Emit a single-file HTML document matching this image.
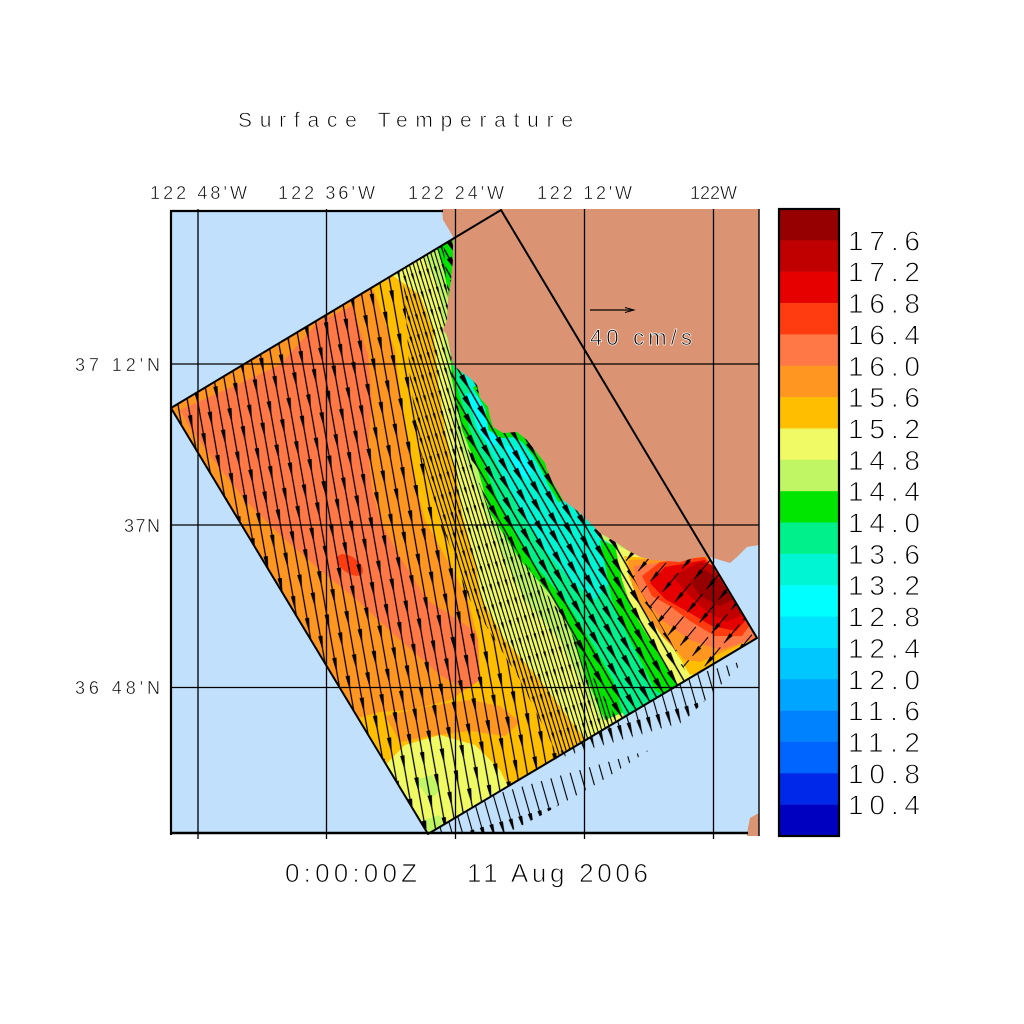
<!DOCTYPE html>
<html>
<head>
<meta charset="utf-8">
<style>
html,body{margin:0;padding:0;background:#fff;}
svg{display:block;}
text{font-family:"Liberation Sans",sans-serif;fill:#000;stroke:#fff;}
</style>
</head>
<body>
<svg width="1024" height="1024" viewBox="0 0 1024 1024" xmlns="http://www.w3.org/2000/svg">
<defs>
  <clipPath id="dom"><polygon points="171,408 501,210 757,638 428,834"/></clipPath>
  <clipPath id="frame"><rect x="171" y="211" width="588" height="623"/></clipPath>
  <pattern id="pA" width="20" height="44" patternUnits="userSpaceOnUse" patternTransform="rotate(-10)">
    <path d="M5 0V44M15 0V44" stroke="#000" stroke-width="1.25"/>
    <path d="M2.8 22H7.2L5 38ZM12.8 2H17.2L15 18Z" fill="#000"/>
  </pattern>
  <pattern id="pY" width="8" height="40" patternUnits="userSpaceOnUse" patternTransform="rotate(-17)">
    <path d="M2 0V40M6 0V40" stroke="#000" stroke-width="1.1"/>
    <path d="M0.8 22H3.2L2 34ZM4.8 2H7.2L6 14Z" fill="#000"/>
  </pattern>
  <pattern id="pB" width="16" height="36" patternUnits="userSpaceOnUse" patternTransform="rotate(-30)">
    <path d="M4 0V36M12 0V36" stroke="#000" stroke-width="1.4"/>
    <path d="M1.2 16H6.8L4 33ZM9.2 0H14.8L12 17Z" fill="#000"/>
  </pattern>
  <pattern id="pC" width="16" height="30" patternUnits="userSpaceOnUse" patternTransform="rotate(40)">
    <path d="M8 3V27" stroke="#000" stroke-width="1.1"/>
    <path d="M6 16H10L8 28Z" fill="#000"/>
  </pattern>
  <pattern id="pD" width="10" height="60" patternUnits="userSpaceOnUse" patternTransform="rotate(-16)">
    <path d="M5 0V42" stroke="#000" stroke-width="1.1"/>
    <path d="M3 28H7L5 44Z" fill="#000"/>
  </pattern>
</defs>

<!-- ocean -->
<rect x="171" y="211" width="588" height="623" fill="#c1e0fb"/>

<!-- domain colour field -->
<g clip-path="url(#dom)">
  <rect x="150" y="190" width="640" height="660" fill="#ff9622"/>
  <polygon fill="#ff7846" points="180,410 230,388 280,365 318,322 352,306 368,355 372,400 368,450 372,490 380,520 397,552 427,600 470,628 508,650 500,676 470,692 440,675 400,640 357,600 320,570 280,535 245,500 215,462 190,428"/>
  <ellipse cx="350" cy="565" rx="15" ry="8" transform="rotate(35 350 565)" fill="#ff3c0f"/>
  <polygon fill="#ffbe00" points="370,280 395,350 402,410 412,470 425,520 450,565 468,600 478,640 480,680 450,700 410,710 380,712 350,720 330,780 428,840 800,640 800,150 360,150"/>
  <polygon fill="#ff9622" points="385,716 430,706 470,700 500,706 520,722 505,736 470,731 430,736 400,742"/>
  <polygon fill="#f0fa64" points="388,272 420,295 433,330 438,380 445,430 457,480 462,513 475,560 482,600 505,640 540,680 570,720 590,745 800,640 800,150 400,150"/>
  <polygon fill="#f0fa64" points="385,765 405,745 440,735 475,745 500,770 510,790 428,840"/>
  <polygon fill="#c0f564" points="415,780 432,775 440,790 430,800"/>
  <polygon fill="#c0f564" points="418,822 440,815 445,834 425,836"/>
  <polygon fill="#c0f564" points="420,248 440,290 443,330 448,380 455,430 470,470 485,513 505,560 525,600 560,640 580,680 600,720 800,640 800,150 430,150"/>
  <polygon fill="#00e600" points="437,243 448,290 450,340 452,380 462,430 478,470 490,513 520,560 555,600 575,640 587,680 605,720 800,640 800,150 450,150"/>
  <polygon fill="#00f08c" points="453,320 450,350 455,380 470,430 490,480 503,513 530,560 565,600 590,640 613,680 625,720 800,640 800,150 470,150"/>
  <polygon fill="#00f5d2" points="462,372 472,400 480,430 500,470 520,513 545,550 570,580 595,600 620,570 640,540 560,400 480,340"/>
  <polygon fill="#00ffff" points="466,393 485,398 497,420 500,442 490,447 478,430"/>
  <polygon fill="#00ffff" points="505,445 520,450 532,470 528,480 515,470"/>
  <polyline fill="none" stroke="#00e600" stroke-width="10" points="477,385 490,407 493,427 503,433 517,432 527,440 537,453 547,470 553,483 563,500"/>
  <polyline fill="none" stroke="#c0f564" stroke-width="8" points="600,533 617,543 627,550 640,557"/>
  <polygon fill="#00e600" points="436,243 456,234 456,270 445,268"/>
  <polygon fill="#00e600" points="600,540 640,556 760,560 760,640 700,680 672,700 655,690 640,660 625,630 612,600"/>
  <polygon fill="#f0fa64" points="615,545 645,558 760,560 760,640 700,676 680,690 668,670 650,640 632,610 622,580"/>
  <polygon fill="#ffbe00" points="624,556 648,558 760,560 760,640 705,672 690,675 678,655 660,625 645,600 630,580"/>
  <polygon fill="#ff9622" points="628,560 660,558 710,556 760,636 700,662 685,660 662,636 642,608 632,585"/>
  <polygon fill="#ff7846" points="634,566 700,557 750,620 760,637 720,650 690,640 662,620 646,600 636,582"/>
  <polygon fill="#ff3c0f" points="642,576 660,562 705,557 752,622 742,636 715,636 690,621 670,606 652,596"/>
  <polygon fill="#e60000" points="650,583 665,567 705,560 746,620 736,631 712,626 690,613 665,599"/>
  <polygon fill="#c00000" points="672,576 700,562 712,565 742,615 726,622 705,610 690,596"/>
  <polygon fill="#960000" points="690,581 705,570 720,580 733,600 720,606 700,596"/>
</g>

<!-- vector field -->
<g clip-path="url(#dom)">
  <polygon fill="url(#pA)" points="150,400 395,200 405,300 410,380 420,450 440,520 470,600 520,680 560,760 420,850 150,850"/>
  <polygon fill="url(#pY)" points="395,200 405,300 410,380 420,450 440,520 470,600 520,680 560,760 640,740 630,740 600,690 565,620 530,570 490,513 468,450 452,380 448,300 440,200"/>
  <polygon fill="url(#pB)" points="440,200 448,300 452,380 468,450 490,513 530,570 565,620 600,690 630,740 700,700 670,640 640,590 620,550 560,420 470,200"/>
  <polygon fill="url(#pC)" points="620,550 640,590 670,640 700,700 800,700 800,540"/>
</g>
<g clip-path="url(#frame)">
  <polygon fill="url(#pD)" points="428,834 480,803 550,761 650,702 700,672 757,638 757,648 712,694 662,742 600,782 540,816 505,834"/>
</g>

<!-- land -->
<polygon fill="#db9473" points="442,209 759,209 759,545 747,547 737,557 730,563 720,560 710,557 697,557 680,562 653,560 640,557 627,550 617,543 600,533 590,523 580,513 563,500 553,483 547,470 545,463 537,453 527,440 517,432 503,433 493,427 490,417 488,407 480,398 477,385 470,378 463,373 453,365 450,350 447,335 443,330 447,320 448,300 451,280 453,260 453,237 448,228 443,220"/>
<polygon fill="#db9473" points="750,818 757,814 759,814 759,836 747,836 748,828"/>

<!-- domain outline -->
<polygon points="171,408 501,210 757,638 428,834" fill="none" stroke="#000" stroke-width="2" stroke-linejoin="round"/>

<!-- grid -->
<g stroke="#000" stroke-width="1.3">
  <line x1="198" y1="209" x2="198" y2="839"/>
  <line x1="326.5" y1="209" x2="326.5" y2="839"/>
  <line x1="455.5" y1="209" x2="455.5" y2="839"/>
  <line x1="584.5" y1="209" x2="584.5" y2="839"/>
  <line x1="713.5" y1="209" x2="713.5" y2="839"/>
  <line x1="171" y1="364" x2="759" y2="364"/>
  <line x1="171" y1="525" x2="759" y2="525"/>
  <line x1="171" y1="687.5" x2="759" y2="687.5"/>
</g>

<!-- frame -->
<g stroke="#000">
  <line x1="171" y1="210" x2="171" y2="835" stroke-width="2.2"/>
  <line x1="170" y1="833" x2="748" y2="833" stroke-width="2.4"/>
  <line x1="170" y1="211" x2="443" y2="211" stroke-width="2.2"/>
  <line x1="759" y1="209" x2="759" y2="836" stroke-width="1.4"/>
</g>

<!-- reference vector -->
<line x1="590" y1="310" x2="633" y2="310" stroke="#000" stroke-width="1.3"/>
<path d="M625 307.5L634 310L625 312.5" fill="none" stroke="#000" stroke-width="1"/>
<text x="590" y="345" font-size="22" stroke-width="0.7" textLength="102" lengthAdjust="spacing">40 cm/s</text>

<!-- titles / labels -->
<text x="238" y="127" font-size="21" stroke-width="0.7" textLength="335" lengthAdjust="spacing">Surface Temperature</text>

<g font-size="18" stroke-width="0.5">
  <text x="150" y="199" textLength="97" lengthAdjust="spacing">122 48'W</text>
  <text x="278" y="199" textLength="97" lengthAdjust="spacing">122 36'W</text>
  <text x="408" y="199" textLength="96" lengthAdjust="spacing">122 24'W</text>
  <text x="537" y="199" textLength="95" lengthAdjust="spacing">122 12'W</text>
  <text x="690" y="199" textLength="47" lengthAdjust="spacing">122W</text>
  <text x="75" y="371" textLength="85" lengthAdjust="spacing">37 12'N</text>
  <text x="124" y="532" textLength="36" lengthAdjust="spacing">37N</text>
  <text x="75" y="694" textLength="85" lengthAdjust="spacing">36 48'N</text>
</g>

<g font-size="26" stroke-width="0.8">
  <text x="285" y="882" textLength="132" lengthAdjust="spacing">0:00:00Z</text>
  <text x="467" y="882" textLength="181" lengthAdjust="spacing">11 Aug 2006</text>
</g>

<!-- colorbar -->
<g>
  <rect x="780" y="209" width="59" height="31.6" fill="#960000"/>
  <rect x="780" y="240.35" width="59" height="31.6" fill="#c00000"/>
  <rect x="780" y="271.7" width="59" height="31.6" fill="#e60000"/>
  <rect x="780" y="303.05" width="59" height="31.6" fill="#ff3c0f"/>
  <rect x="780" y="334.4" width="59" height="31.6" fill="#ff7846"/>
  <rect x="780" y="365.75" width="59" height="31.6" fill="#ff9622"/>
  <rect x="780" y="397.1" width="59" height="31.6" fill="#ffbe00"/>
  <rect x="780" y="428.45" width="59" height="31.6" fill="#f0fa64"/>
  <rect x="780" y="459.8" width="59" height="31.6" fill="#c0f564"/>
  <rect x="780" y="491.15" width="59" height="31.6" fill="#00e600"/>
  <rect x="780" y="522.5" width="59" height="31.6" fill="#00f08c"/>
  <rect x="780" y="553.85" width="59" height="31.6" fill="#00f5d2"/>
  <rect x="780" y="585.2" width="59" height="31.6" fill="#00ffff"/>
  <rect x="780" y="616.55" width="59" height="31.6" fill="#00e3ff"/>
  <rect x="780" y="647.9" width="59" height="31.6" fill="#00c8ff"/>
  <rect x="780" y="679.25" width="59" height="31.6" fill="#00a5ff"/>
  <rect x="780" y="710.6" width="59" height="31.6" fill="#0082ff"/>
  <rect x="780" y="741.95" width="59" height="31.6" fill="#0064ff"/>
  <rect x="780" y="773.3" width="59" height="31.6" fill="#0028e8"/>
  <rect x="780" y="804.65" width="59" height="31.35" fill="#0000c0"/>
  <rect x="779" y="209" width="60" height="627" fill="none" stroke="#000" stroke-width="2.2"/>
</g>
<g font-size="28" stroke-width="0.9">
  <text x="848" y="250.4" textLength="72" lengthAdjust="spacing">17.6</text>
  <text x="848" y="281.7" textLength="72" lengthAdjust="spacing">17.2</text>
  <text x="848" y="313.1" textLength="72" lengthAdjust="spacing">16.8</text>
  <text x="848" y="344.4" textLength="72" lengthAdjust="spacing">16.4</text>
  <text x="848" y="375.8" textLength="72" lengthAdjust="spacing">16.0</text>
  <text x="848" y="407.1" textLength="72" lengthAdjust="spacing">15.6</text>
  <text x="848" y="438.5" textLength="72" lengthAdjust="spacing">15.2</text>
  <text x="848" y="469.8" textLength="72" lengthAdjust="spacing">14.8</text>
  <text x="848" y="501.2" textLength="72" lengthAdjust="spacing">14.4</text>
  <text x="848" y="532.5" textLength="72" lengthAdjust="spacing">14.0</text>
  <text x="848" y="563.9" textLength="72" lengthAdjust="spacing">13.6</text>
  <text x="848" y="595.2" textLength="72" lengthAdjust="spacing">13.2</text>
  <text x="848" y="626.6" textLength="72" lengthAdjust="spacing">12.8</text>
  <text x="848" y="657.9" textLength="72" lengthAdjust="spacing">12.4</text>
  <text x="848" y="689.3" textLength="72" lengthAdjust="spacing">12.0</text>
  <text x="848" y="720.6" textLength="72" lengthAdjust="spacing">11.6</text>
  <text x="848" y="752.0" textLength="72" lengthAdjust="spacing">11.2</text>
  <text x="848" y="783.3" textLength="72" lengthAdjust="spacing">10.8</text>
  <text x="848" y="814.7" textLength="72" lengthAdjust="spacing">10.4</text>
</g>
</svg>
</body>
</html>
